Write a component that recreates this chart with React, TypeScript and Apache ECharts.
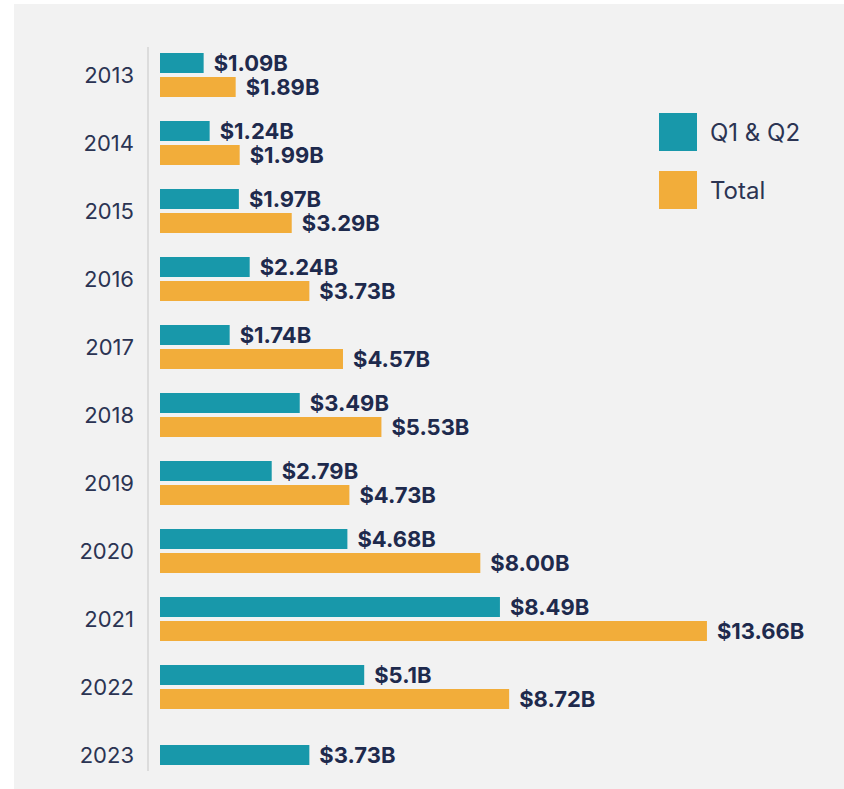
import React, { useEffect, useRef } from "react";
import * as echarts from "echarts";

const years = ["2013", "2014", "2015", "2016", "2017", "2018", "2019", "2020", "2021", "2022", "2023"];
const q1q2Text = ["1.09", "1.24", "1.97", "2.24", "1.74", "3.49", "2.79", "4.68", "8.49", "5.1", "3.73"];
const totalText = ["1.89", "1.99", "3.29", "3.73", "4.57", "5.53", "4.73", "8.00", "13.66", "8.72", null];
const seriesNames = ["Q1 & Q2", "Total"];

const TEAL = "#1898aa";
const ORANGE = "#f2ad3a";
const NAVY = "#1e2a4d";

export default function App() {
  const ref = useRef<HTMLDivElement>(null);
  useEffect(() => {
    if (!ref.current) return;
    const chart = echarts.init(ref.current, null, { renderer: "svg" });
    const q1Main = q1q2Text.map((v, i) => (totalText[i] === null ? null : Number(v)));
    const q1Solo = q1q2Text.map((v, i) => (totalText[i] === null ? Number(v) : null));
    const totalVals = totalText.map((v) => (v === null ? null : Number(v)));
    const label = (texts: (string | null)[]) => ({
      show: true,
      position: "right" as const,
      distance: 10,
      fontFamily: "Inter",
      fontWeight: 700,
      fontSize: 22,
      color: NAVY,
      formatter: (p: any) => (texts[p.dataIndex] ? `$${texts[p.dataIndex]}B` : ""),
    });
    chart.setOption({
      animation: false,
      backgroundColor: "#f2f2f2",
      textStyle: { fontFamily: "Inter" },
      legend: {
        data: seriesNames,
        orient: "vertical",
        left: 640,
        top: 104,
        icon: "rect",
        itemWidth: 38,
        itemHeight: 38,
        itemGap: 20,
        textStyle: { fontSize: 24, color: "#2b3453", fontFamily: "Inter", padding: [0, 0, 0, 8] },
      },
      grid: { left: 146, top: 37, width: 14 * 40.04, height: 752 },
      xAxis: {
        type: "value",
        min: 0,
        max: 14,
        show: false,
      },
      yAxis: [
        {
          type: "category",
          data: years,
          inverse: true,
          axisLine: { show: false },
          axisTick: { show: false },
          axisLabel: { margin: 26, fontSize: 22, color: "#2b3453", fontFamily: "Inter" },
        },
        {
          type: "category",
          data: years,
          inverse: true,
          show: false,
        },
      ],
      graphic: [
        {
          type: "line",
          shape: { x1: 134, y1: 43, x2: 134, y2: 767 },
          style: { stroke: "#d4d4d4", lineWidth: 1.5 },
          silent: true,
        },
      ],
      series: [
        {
          name: seriesNames[0],
          type: "bar",
          yAxisIndex: 0,
          data: q1Main,
          barWidth: 20,
          barGap: "20%",
          itemStyle: { color: TEAL },
          label: label(q1q2Text),
        },
        {
          name: seriesNames[1],
          type: "bar",
          yAxisIndex: 0,
          data: totalVals,
          barWidth: 20,
          barGap: "20%",
          itemStyle: { color: ORANGE },
          label: label(totalText),
        },
        {
          name: seriesNames[0],
          type: "bar",
          yAxisIndex: 1,
          data: q1Solo,
          barWidth: 20,
          itemStyle: { color: TEAL },
          label: label(q1q2Text.map((v, i) => (totalText[i] === null ? v : null))),
        },
      ],
    });
    return () => chart.dispose();
  }, []);
  return (
    <div style={{ position: "fixed", left: 0, top: 0, width: 844, height: 789, background: "#ffffff" }}>
      <div ref={ref} style={{ position: "absolute", left: 14, top: 4, width: 830, height: 785 }} />
    </div>
  );
}
